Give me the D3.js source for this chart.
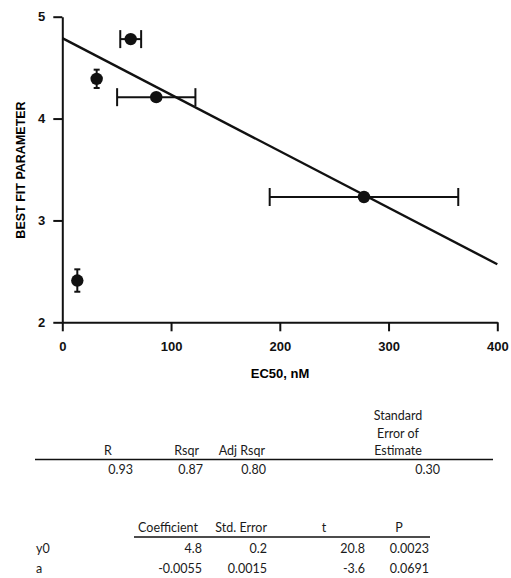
<!DOCTYPE html>
<html>
<head>
<meta charset="utf-8">
<script src="https://d3js.org/d3.v7.min.js"></script>
<style>
  body { margin: 0; background: #fff; }
  .axis text { font-family: "Liberation Sans", Arial, sans-serif; font-weight: bold; font-size: 13px; fill: #111; }
  .axis path, .axis line { stroke: #111; stroke-width: 2px; }
  .tbl { font-family: Lato, "Open Sans", sans-serif; font-size: 12.5px; fill: #1a1a1a; }
</style>
</head>
<body>
<div id="vis-holder"></div>
<script>
// scatter points with error bars (EC50 in nM vs best fit parameter)
const ec50 = [13.8, 31.6, 62.9, 86.4, 277.4];
const param = [2.41, 4.39, 4.78, 4.21, 3.23];
const xErr = [0, 0, 9.6, 36, 86.7];
const yErr = [0.11, 0.09, 0, 0, 0];

// fitted line endpoints
const fitX = [0, 400];
const fitY = [4.79, 2.57];

const xTicks = [0, 100, 200, 300, 400];
const yTicks = [2, 3, 4, 5];

// regression summary table
const sumHeaders = ["R", "Rsqr", "Adj Rsqr", ["Standard", "Error of", "Estimate"]];
const sumValues = ["0.93", "0.87", "0.80", "0.30"];

// coefficient table
const coefHeaders = ["Coefficient", "Std. Error", "t", "P"];
const coefRows = ["y0", "a"];
const coefValues = [
    ["4.8", "0.2", "20.8", "0.0023"],
    ["-0.0055", "0.0015", "-3.6", "0.0691"]
];

const width = 511, height = 578;

const svg = d3.select("#vis-holder")
    .append("svg")
    .attr("width", width)
    .attr("height", height);

const x = d3.scaleLinear().domain([0, 400]).range([62.3, 497.3]);
const y = d3.scaleLinear().domain([2, 5]).range([322.3, 16.7]);

svg.append("g")
    .attr("class", "axis")
    .attr("transform", "translate(0," + y(2) + ")")
    .call(d3.axisBottom(x).tickValues(xTicks).tickSize(9).tickSizeOuter(0).tickPadding(10));

svg.append("g")
    .attr("class", "axis")
    .attr("transform", "translate(" + x(0) + ",0)")
    .call(d3.axisLeft(y).tickValues(yTicks).tickFormat(d3.format("d")).tickSize(9).tickSizeOuter(0).tickPadding(8));

// axis titles
svg.append("text")
    .attr("x", 280)
    .attr("y", 378)
    .attr("text-anchor", "middle")
    .style("font-family", "Liberation Sans, Arial, sans-serif")
    .style("font-weight", "bold")
    .style("font-size", "13px")
    .text("EC50, nM");

svg.append("text")
    .attr("transform", "translate(25,170) rotate(-90)")
    .attr("text-anchor", "middle")
    .style("font-family", "Liberation Sans, Arial, sans-serif")
    .style("font-weight", "bold")
    .style("font-size", "12.5px")
    .text("BEST FIT PARAMETER");

// fit line
svg.append("line")
    .attr("x1", x(fitX[0])).attr("y1", y(fitY[0]))
    .attr("x2", x(fitX[1])).attr("y2", y(fitY[1]))
    .attr("stroke", "#111")
    .attr("stroke-width", 2.4);

const pts = ec50.map((d, i) => ({ x: d, y: param[i], ex: xErr[i], ey: yErr[i] }));
const bars = svg.append("g").attr("stroke", "#111").attr("stroke-width", 2);

pts.filter(d => d.ex > 0).forEach(function (d) {
    bars.append("line")
        .attr("x1", x(d.x - d.ex)).attr("x2", x(d.x + d.ex))
        .attr("y1", y(d.y)).attr("y2", y(d.y));
    [d.x - d.ex, d.x + d.ex].forEach(function (e) {
        bars.append("line")
            .attr("x1", x(e)).attr("x2", x(e))
            .attr("y1", y(d.y) - 9).attr("y2", y(d.y) + 9);
    });
});

pts.filter(d => d.ey > 0).forEach(function (d) {
    bars.append("line")
        .attr("x1", x(d.x)).attr("x2", x(d.x))
        .attr("y1", y(d.y - d.ey)).attr("y2", y(d.y + d.ey));
    [d.y - d.ey, d.y + d.ey].forEach(function (e) {
        bars.append("line")
            .attr("x1", x(d.x) - 3).attr("x2", x(d.x) + 3)
            .attr("y1", y(e)).attr("y2", y(e));
    });
});

svg.append("g")
    .selectAll("circle")
    .data(pts)
    .enter().append("circle")
    .attr("cx", d => x(d.x))
    .attr("cy", d => y(d.y))
    .attr("r", 6.2)
    .attr("fill", "#111");

// ---- summary table ----
const t1 = svg.append("g").attr("class", "tbl");
const sumHeadX = [108, 199, 265, 398];
const sumHeadAnchor = ["middle", "end", "end", "middle"];
sumHeaders.forEach(function (h, i) {
    const lines = Array.isArray(h) ? h : [h];
    lines.forEach(function (s, j) {
        t1.append("text")
            .attr("x", sumHeadX[i])
            .attr("y", 455 - (lines.length - 1 - j) * 17.5)
            .attr("text-anchor", sumHeadAnchor[i])
            .text(s);
    });
});
t1.append("line")
    .attr("x1", 35).attr("x2", 493)
    .attr("y1", 459.5).attr("y2", 459.5)
    .attr("stroke", "#111").attr("stroke-width", 1.6);
const sumValX = [133, 203, 266, 440];
sumValues.forEach(function (v, i) {
    t1.append("text")
        .attr("x", sumValX[i])
        .attr("y", 474)
        .attr("text-anchor", "end")
        .text(v);
});

// ---- coefficient table ----
const t2 = svg.append("g").attr("class", "tbl");
const coefHeadX = [198, 267, 324, 399];
const coefHeadAnchor = ["end", "end", "middle", "middle"];
coefHeaders.forEach(function (h, i) {
    t2.append("text")
        .attr("x", coefHeadX[i])
        .attr("y", 532)
        .attr("text-anchor", coefHeadAnchor[i])
        .text(h);
});
t2.append("line")
    .attr("x1", 134).attr("x2", 430)
    .attr("y1", 537).attr("y2", 537)
    .attr("stroke", "#111").attr("stroke-width", 1.4);
const coefValX = [202, 267, 365, 429];
coefRows.forEach(function (r, k) {
    const yy = 553 + k * 19.5;
    t2.append("text").attr("x", 36).attr("y", yy).text(r);
    coefValues[k].forEach(function (v, i) {
        t2.append("text")
            .attr("x", coefValX[i])
            .attr("y", yy)
            .attr("text-anchor", "end")
            .text(v);
    });
});
</script>
</body>
</html>
